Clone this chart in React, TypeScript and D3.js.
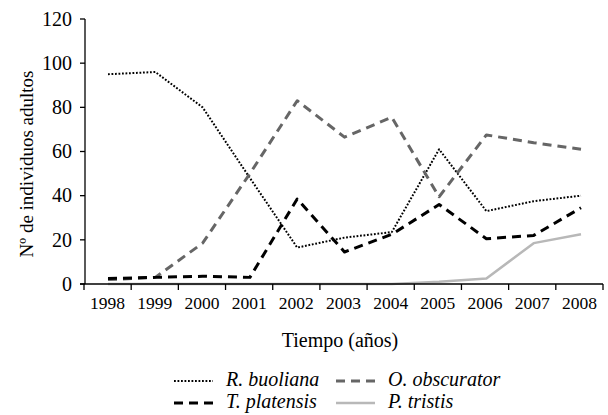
import React from "react";
import * as d3 from "d3";

const years = ["1998","1999","2000","2001","2002","2003","2004","2005","2006","2007","2008"];
const rBuoliana = [95, 96, 80, 48, 16.5, 21, 23.5, 61, 33, 37.5, 40];
const oObscurator = [2, 3, 18.5, 50, 83, 66.5, 75.5, 39.5, 67.5, 64, 61];
const tPlatensis = [2.5, 3, 3.5, 3, 38.5, 14.5, 22.5, 36, 20.5, 22, 34.5];
const pTristis = [0, 0, 0, 0, 0, 0, 0, 1, 2.5, 18.5, 22.5];
const yTicks = [0, 20, 40, 60, 80, 100, 120];

const series = [
  { name: "R. buoliana", values: rBuoliana, color: "#000", width: 2, dash: "1.8 1.7" },
  { name: "O. obscurator", values: oObscurator, color: "#666", width: 3, dash: "9 6" },
  { name: "T. platensis", values: tPlatensis, color: "#000", width: 3, dash: "9 6" },
  { name: "P. tristis", values: pTristis, color: "#b8b8b8", width: 2.5, dash: "" },
];

const serif = "Liberation Serif, DejaVu Serif, serif";

export default function App() {
  const W = 608, H = 415;
  const x0 = 85, x1 = 603, yBottom = 284, yTop = 19;
  const xBand = d3.scaleBand<string>().domain(years).range([x0 - 1, x1]);
  const xPt = d3.scalePoint<string>().domain(years).range([108, 581]);
  const y = d3.scaleLinear().domain([0, 120]).range([yBottom, yTop]);
  const line = d3.line<number>().x((_, i) => xPt(years[i]) as number).y((d) => y(d));
  const bounds = years.map((yr) => xBand(yr) as number).concat([x1]);
  const order = [3, 0, 1, 2];
  const ts = { fontFamily: serif } as React.CSSProperties;

  const legend = [
    { s: series[0], lx: 174, tx: 226, ty: 386 },
    { s: series[1], lx: 336, tx: 388, ty: 386 },
    { s: series[2], lx: 174, tx: 226, ty: 408 },
    { s: series[3], lx: 336, tx: 388, ty: 408 },
  ];

  return (
    <svg width={W} height={H} style={{ position: "absolute", left: 0, top: 0, background: "#fff" }}>
      <rect width={W} height={H} fill="#fff" />
      <line x1={x0} x2={x0} y1={yTop} y2={yBottom} stroke="#000" strokeWidth={1.3} />
      {yTicks.map((t) => (
        <g key={t}>
          <line x1={x0 - 5} x2={x0} y1={y(t)} y2={y(t)} stroke="#000" strokeWidth={1.3} />
          <text x={72} y={y(t)} dy="0.34em" textAnchor="end" fontSize={20} style={ts}>{t}</text>
        </g>
      ))}
      <text transform={`translate(33,164) rotate(-90)`} textAnchor="middle" fontSize={19} style={ts}>Nº de individuos adultos</text>
      {order.map((k) => {
        const s = series[k];
        return (
          <path key={s.name} d={line(s.values) || ""} fill="none" stroke={s.color} strokeWidth={s.width}
            strokeDasharray={s.dash || undefined} strokeLinejoin="round" />
        );
      })}
      <line x1={x0 - 5} x2={x1} y1={yBottom} y2={yBottom} stroke="#000" strokeWidth={1.3} />
      {bounds.map((b, i) => (
        <line key={i} x1={b} x2={b} y1={yBottom} y2={yBottom + 6} stroke="#000" strokeWidth={1.3} />
      ))}
      {years.map((yr) => (
        <text key={yr} x={(xBand(yr) as number) + xBand.bandwidth() / 2} y={309} textAnchor="middle" fontSize={17.5} style={ts}>{yr}</text>
      ))}
      <text x={340} y={347} textAnchor="middle" fontSize={20} style={ts}>Tiempo (años)</text>
      {legend.map(({ s, lx, tx, ty }) => (
        <g key={s.name}>
          <line x1={lx} x2={lx + 39} y1={ty - 5} y2={ty - 5} stroke={s.color} strokeWidth={s.width}
            strokeDasharray={s.dash || undefined} />
          <text x={tx} y={ty} fontSize={20} fontStyle="italic" style={ts}>{s.name}</text>
        </g>
      ))}
    </svg>
  );
}
